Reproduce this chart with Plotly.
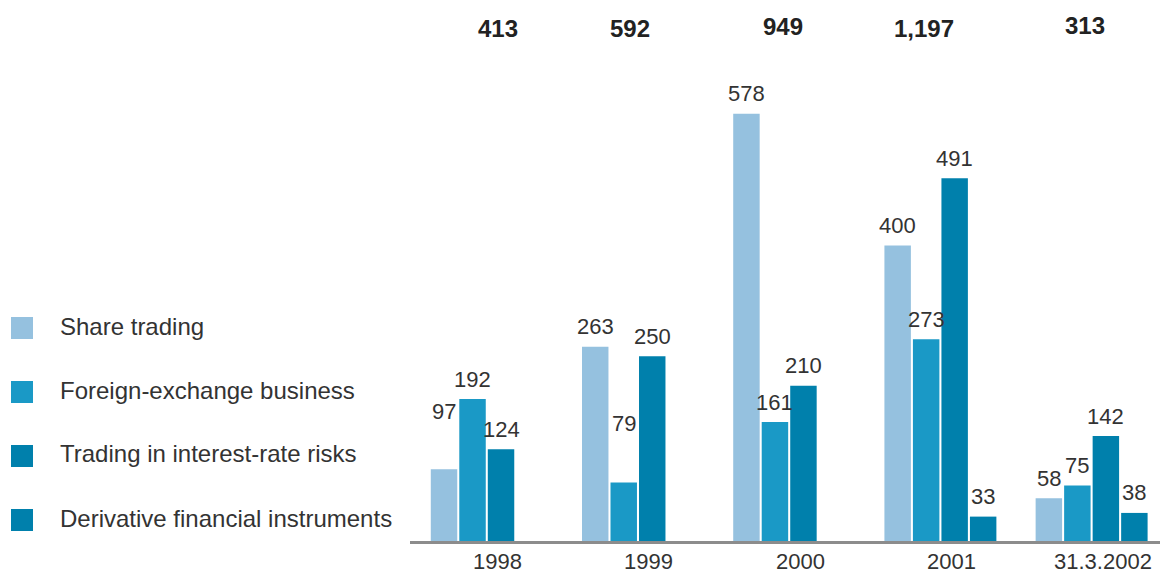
import plotly.graph_objects as go

# Trading results by business line (EUR m)
periods = ["1998", "1999", "2000", "2001", "31.3.2002"]
series_names = [
    "Share trading",
    "Foreign-exchange business",
    "Trading in interest-rate risks",
    "Derivative financial instruments",
]
share_trading = [97, 263, 578, 400, 58]
fx_business = [192, 79, 161, 273, 75]
interest_rate = [124, 250, 210, 491, 142]
derivatives = [None, None, None, 33, 38]
totals = ["413", "592", "949", "1,197", "313"]

series_values = [share_trading, fx_business, interest_rate, derivatives]
colors = ["#95c1df", "#1a99c6", "#0080ac", "#0080ac"]

W, H = 1170, 574
BAR_STEP = 0.1885   # offset between neighbouring bars inside a period
BAR_WIDTH = 0.175
TEXT_COLOR = "#333333"
LABEL_FONT = "Liberation Sans, Arial, sans-serif"

# extra lift for labels that sit higher above their bars
label_lift = {(0, 0): 58, (1, 1): 59}
default_lift = 20
# horizontal nudge (px) of each period total
total_nudge = [25, 6, 8, -16, -7]
total_raise = [0, 0, 2, 0, 3]

fig = go.Figure()
annotations = []

for k, (name, vals, col) in enumerate(zip(series_names, series_values, colors)):
    xs, ys = [], []
    for g, v in enumerate(vals):
        if v is None:
            continue
        xs.append(g + BAR_STEP * k)
        ys.append(v)
        annotations.append(dict(
            x=g + BAR_STEP * k, y=v, xref="x", yref="y",
            text=str(v), showarrow=False, yanchor="middle",
            yshift=label_lift.get((k, g), default_lift),
            font=dict(family=LABEL_FONT, size=22, color=TEXT_COLOR),
        ))
    fig.add_trace(go.Bar(
        x=xs, y=ys, name=name, width=BAR_WIDTH,
        marker=dict(color=col, line=dict(width=0)),
        hoverinfo="x+y",
    ))

# period totals across the top
for g, label in enumerate(totals):
    n = sum(1 for vals in series_values if vals[g] is not None)
    annotations.append(dict(
        x=g + BAR_STEP * (n - 1) / 2, y=(H - 28) / H, xref="x", yref="paper",
        text="<b>" + label + "</b>", showarrow=False, yanchor="middle",
        xshift=total_nudge[g], yshift=total_raise[g],
        font=dict(family=LABEL_FONT, size=24, color="#222222"),
    ))

# period names under the axis line
for g, label in enumerate(periods):
    annotations.append(dict(
        x=g + 0.355, y=(H - 561) / H, xref="x", yref="paper",
        text=label, showarrow=False, yanchor="middle",
        font=dict(family=LABEL_FONT, size=22, color=TEXT_COLOR),
    ))

# legend drawn as swatches with text on the left
shapes = []
for i, (name, col) in enumerate(zip(series_names, colors)):
    cy = 328 + 64 * i
    shapes.append(dict(
        type="rect", xref="paper", yref="paper",
        x0=11 / W, x1=33 / W, y0=(H - cy - 11) / H, y1=(H - cy + 11) / H,
        fillcolor=col, line=dict(width=0),
    ))
    annotations.append(dict(
        x=58 / W, y=(H - cy + 2) / H, xref="paper", yref="paper",
        text=name, showarrow=False, xanchor="left", yanchor="middle",
        font=dict(family=LABEL_FONT, size=24, color=TEXT_COLOR),
    ))

fig.update_layout(
    width=W, height=H,
    margin=dict(l=0, r=0, t=0, b=0, autoexpand=False),
    paper_bgcolor="white", plot_bgcolor="white",
    showlegend=False,
    barmode="overlay",
    annotations=annotations,
    shapes=shapes,
    xaxis=dict(
        domain=[410 / W, 1160 / W],
        range=[-0.225, 4.735],
        showticklabels=False,
        ticks="", showgrid=False, zeroline=False,
        showline=True, linecolor="#8c8c8c", linewidth=3,
        automargin=False,
    ),
    yaxis=dict(
        domain=[33 / H, 1],
        range=[0, 541 / 0.739],
        visible=False,
        automargin=False,
    ),
)

fig.write_html("out.html")
